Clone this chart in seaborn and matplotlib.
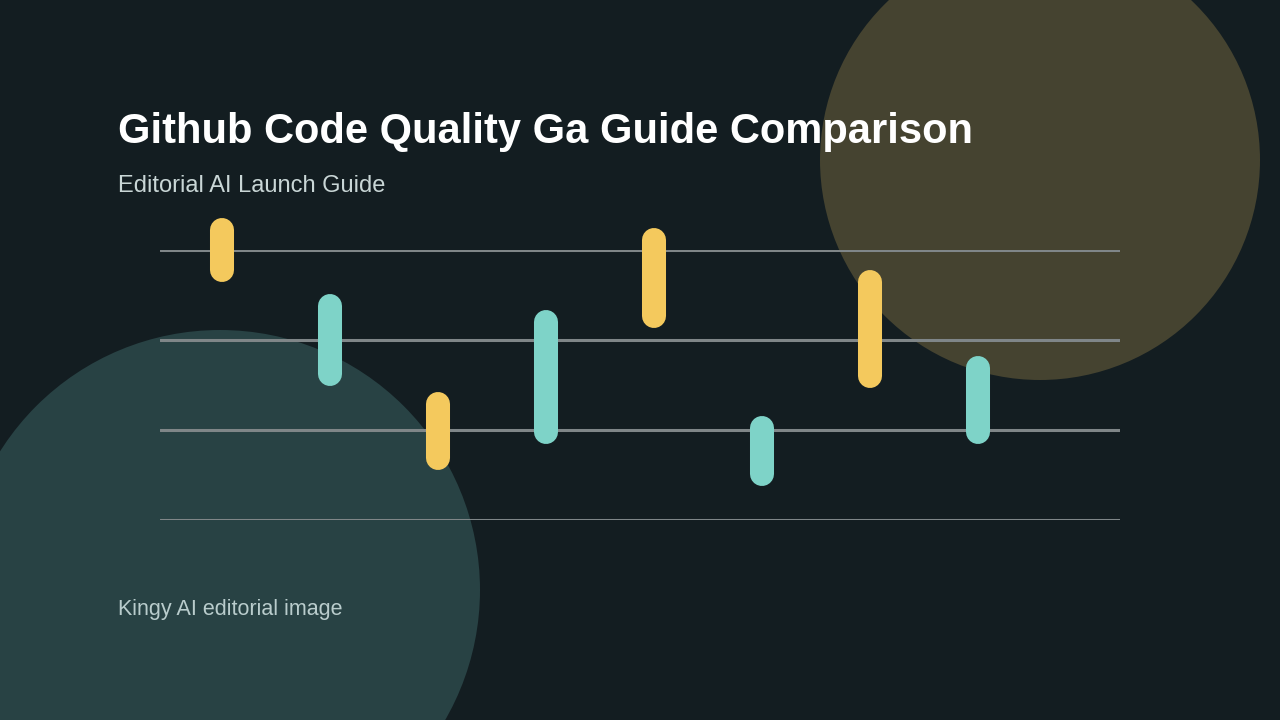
import numpy as np
import pandas as pd
import matplotlib.pyplot as plt
import seaborn as sns
from matplotlib.patches import Circle

sns.set_theme(style='white')
plt.rcParams['font.family'] = ['Liberation Sans', 'DejaVu Sans']

# data: each range bar, value units (0..3 rule scale)
steps = ['1', '2', '3', '4', '5', '6', '7', '8']
lows = [2.64, 1.49, 0.56, 0.84, 2.13, 0.38, 1.47, 0.84]
highs = [3.36, 2.51, 1.42, 2.33, 3.24, 1.16, 2.78, 1.82]
groups = ['a', 'b', 'a', 'b', 'a', 'b', 'a', 'b']
rules = [0, 1, 2, 3]

bg = '#131d21'
palette = {'a': '#f4c95d', 'b': '#7ed3c8'}

fig = plt.figure(figsize=(12.8, 7.2), dpi=100)
fig.patch.set_facecolor(bg)

# decorative background
bax = fig.add_axes([0, 0, 1, 1])
bax.set_xlim(0, 1280)
bax.set_ylim(720, 0)
bax.axis('off')
bax.add_patch(Circle((1040, 160), 220, color='#454330', lw=0))
bax.add_patch(Circle((220, 590), 260, color='#284244', lw=0))

ax = fig.add_axes([160 / 1280, 200 / 720, 960 / 1280, 270 / 720])
ax.patch.set_alpha(0)
ax.set_xlim(-62 / 108, 898 / 108)
ax.set_ylim(0, 3)
ax.axis('off')

rule_df = pd.DataFrame({
    'x': [ax.get_xlim()[0], ax.get_xlim()[1]] * len(rules),
    'y': np.repeat(rules, 2),
    'r': np.repeat(rules, 2),
})
sns.lineplot(data=rule_df, x='x', y='y', units='r', estimator=None,
             color='#7f8688', lw=2.2, ax=ax, legend=False)

inset = 12 / 90
for i, (lo, hi, g) in enumerate(zip(lows, highs, groups)):
    ax.plot([i, i], [lo + inset, hi - inset], color=palette[g], lw=17.3,
            solid_capstyle='round', clip_on=False, zorder=3)

fig.text(118 / 1280, 1 - 132 / 720, 'Github Code Quality Ga Guide Comparison',
         color='white', fontsize=30, fontweight='bold', va='center')
fig.text(118 / 1280, 1 - 186 / 720, 'Editorial AI Launch Guide',
         color='#c9d6d6', fontsize=17, va='center')
fig.text(118 / 1280, 1 - 610 / 720, 'Kingy AI editorial image',
         color='#b9cccc', fontsize=15.5, va='center')

fig.savefig('out.png', dpi=100, facecolor=bg)
